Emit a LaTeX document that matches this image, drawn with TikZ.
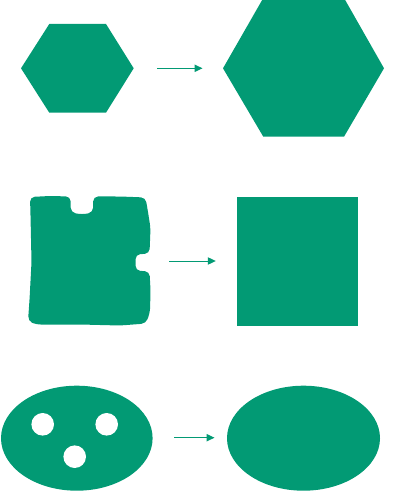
\documentclass[tikz,border=0pt]{standalone}
\usetikzlibrary{arrows.meta}

\definecolor{shapegreen}{RGB}{2,154,116}

\begin{document}
\begin{tikzpicture}[
  x=0.75pt, y=-0.75pt,
  blob/.style ={fill=shapegreen, draw=none},
  hole/.style ={fill=white, draw=none},
  arr/.style  ={-{Triangle[length=6pt, width=5.5pt]}, draw=shapegreen, line width=0.75pt},
]
\useasboundingbox (0,0) rectangle (410,491);

%% ---- Row 1: small hexagon -> large hexagon ----
\fill[blob] (21,68.3) -- (49.3,24) -- (106,24) -- (133.7,68.3)
            -- (106,112.7) -- (49.3,112.7) -- cycle;
\fill[blob] (223,68.3) -- (263.3,-2) -- (344,-2) -- (384,68.3)
            -- (344,136.7) -- (263.3,136.7) -- cycle;
\coordinate (h1) at (157.3,68.3);
\coordinate (h2) at (202.5,68.3);

%% ---- Row 2: puzzle piece -> square ----
\fill[blob, rounded corners=3.5] (30,197) -- (50,196) -- (70.5,196.5) -- (70.8,212.5)
  -- (82,214.5) -- (93,212.5) -- (93.3,196.5) -- (120,196.5) -- (145.5,197.5)
  -- (148,212) -- (150.5,228) -- (149.5,253.5) -- (135.5,254.5) -- (135.5,270.5) -- (149.5,271.5)
  -- (150.5,290) -- (150,312) -- (146,323.5) -- (120,325.5) -- (80,324.5) -- (36,324.5)
  -- (28,321) -- (29.5,300) -- (31.5,262) -- (30.5,215) -- cycle;
\fill[blob] (237,196.7) rectangle (358,325.7);
\coordinate (p1) at (169.3,261);
\coordinate (p2) at (215.8,261);

%% ---- Row 3: ellipse with holes -> filled ellipse ----
\fill[blob] (76.8,438.2) ellipse [x radius=75.8, y radius=52.5];
\fill[hole] (42.7,424.3) circle [radius=11.3];
\fill[hole] (106.7,424.3) circle [radius=11.3];
\fill[hole] (74.7,456.7) circle [radius=11.3];
\fill[blob] (303.5,438.2) ellipse [x radius=76.5, y radius=52.5];
\coordinate (e1) at (174.3,437.7);
\coordinate (e2) at (214.5,437.7);

%% ---- Arrows ----
\draw[arr] (h1) -- (h2);
\draw[arr] (p1) -- (p2);
\draw[arr] (e1) -- (e2);

\end{tikzpicture}
\end{document}
